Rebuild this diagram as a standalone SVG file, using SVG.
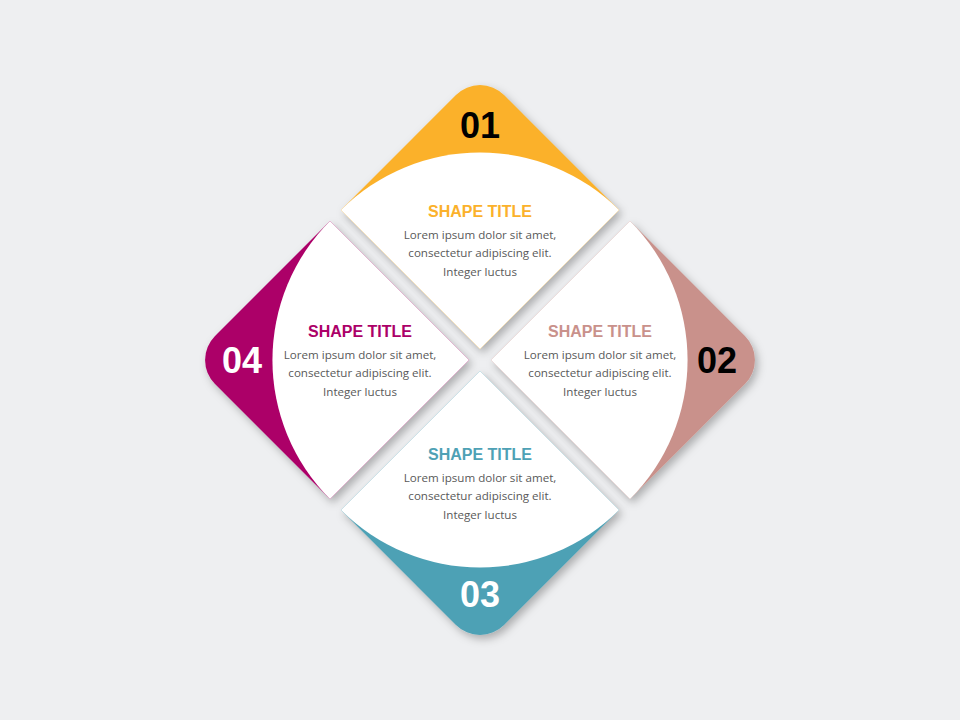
<svg xmlns="http://www.w3.org/2000/svg" xmlns:xlink="http://www.w3.org/1999/xlink" width="960" height="720" viewBox="0 0 960 720">
<style>
.num{font-family:"Liberation Sans",Arial,sans-serif;font-weight:bold;font-size:36px;text-anchor:middle}
.title{font-family:"Liberation Sans",Arial,sans-serif;font-weight:bold;font-size:16px;text-anchor:middle}
.body{font-family:"Open Sans","Liberation Sans",sans-serif;font-size:11.6px;fill:#595959;text-anchor:middle}
.white{fill:#ffffff}
</style>
<defs>
<filter id="sh" x="-20%" y="-20%" width="140%" height="140%">
<feDropShadow dx="3" dy="4" stdDeviation="4" flood-color="#000000" flood-opacity="0.28"/>
</filter>
<path id="sq" d="M480,349 L341,210 L455.96,95.04 A34,34 0 0 1 504.04,95.04 L619,210 Z"/>
<path id="sector" d="M480,349 L341,210 A196.6,196.6 0 0 1 619,210 Z"/>
</defs>
<rect x="0" y="0" width="960" height="720" fill="#EEEFF1"/>
<g id="connectors"></g>
<g id="q1">
<g filter="url(#sh)">
<use xlink:href="#sq" fill="#FBB12B"/>
<use xlink:href="#sector" class="white"/>
</g>
<text class="num" x="480" y="138" fill="#000000">01</text>
<text class="title" x="480" y="217" fill="#FBB12B">SHAPE TITLE</text>
<text class="body" x="480" y="238.5">Lorem ipsum dolor sit amet,</text>
<text class="body" x="480" y="257">consectetur adipiscing elit.</text>
<text class="body" x="480" y="275.5">Integer luctus</text>
</g>
<g id="q2">
<g filter="url(#sh)">
<g transform="rotate(90 480 360)">
<use xlink:href="#sq" fill="#C9918B"/>
<use xlink:href="#sector" class="white"/>
</g>
</g>
<text class="num" x="717" y="373" fill="#000000">02</text>
<text class="title" x="600" y="337" fill="#C9918B">SHAPE TITLE</text>
<text class="body" x="600" y="358.5">Lorem ipsum dolor sit amet,</text>
<text class="body" x="600" y="377">consectetur adipiscing elit.</text>
<text class="body" x="600" y="395.5">Integer luctus</text>
</g>
<g id="q3">
<g filter="url(#sh)">
<g transform="rotate(180 480 360)">
<use xlink:href="#sq" fill="#4EA1B5"/>
<use xlink:href="#sector" class="white"/>
</g>
</g>
<text class="num" x="480" y="607" fill="#FFFFFF">03</text>
<text class="title" x="480" y="460" fill="#4EA1B5">SHAPE TITLE</text>
<text class="body" x="480" y="481.5">Lorem ipsum dolor sit amet,</text>
<text class="body" x="480" y="500">consectetur adipiscing elit.</text>
<text class="body" x="480" y="518.5">Integer luctus</text>
</g>
<g id="q4">
<g filter="url(#sh)">
<g transform="rotate(270 480 360)">
<use xlink:href="#sq" fill="#AC0068"/>
<use xlink:href="#sector" class="white"/>
</g>
</g>
<text class="num" x="242" y="373" fill="#FFFFFF">04</text>
<text class="title" x="360" y="337" fill="#AC0068">SHAPE TITLE</text>
<text class="body" x="360" y="358.5">Lorem ipsum dolor sit amet,</text>
<text class="body" x="360" y="377">consectetur adipiscing elit.</text>
<text class="body" x="360" y="395.5">Integer luctus</text>
</g>
</svg>
